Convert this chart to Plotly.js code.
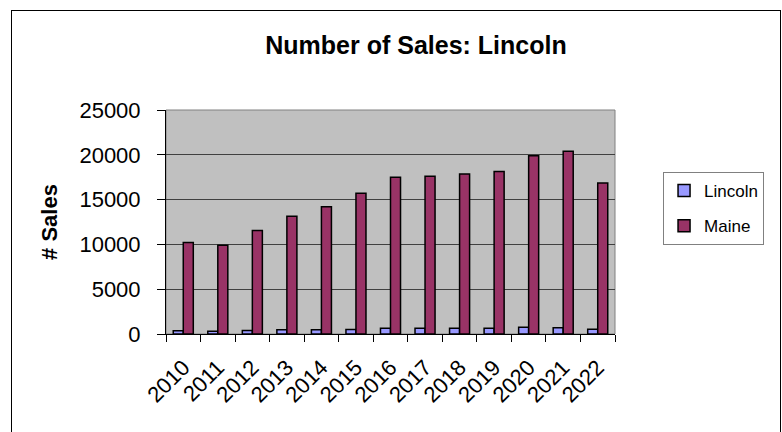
<!DOCTYPE html>
<html>
<head>
<meta charset="utf-8">
<script src="https://cdn.plot.ly/plotly-3.0.1.min.js"></script>
<style>
  html, body { margin: 0; padding: 0; background: #ffffff; }
  #wrap { position: relative; width: 782px; height: 432px; overflow: hidden; }
  #chart { position: absolute; left: 0; top: 0; width: 782px; height: 432px; }
  #frame { position: absolute; left: 11px; top: 10px; width: 768px; height: 440px;
           border: 1px solid #000; pointer-events: none; }
</style>
</head>
<body>
<div id="wrap">
  <div id="chart"></div>
  <div id="frame"></div>
</div>
<script>
const years = ["2010","2011","2012","2013","2014","2015","2016","2017","2018","2019","2020","2021","2022"];
const lincolnSales = [350, 300, 400, 470, 480, 500, 650, 650, 640, 650, 750, 700, 530];
const maineSales = [10200, 9900, 11550, 13150, 14200, 15700, 17500, 17600, 17850, 18150, 19900, 20400, 16850];
const seriesNames = ["Lincoln", "Maine"];
const yTickValues = [0, 5000, 10000, 15000, 20000, 25000];

const FONT = "Arial, 'Liberation Sans', sans-serif";

const traces = [
  {
    type: "bar", name: seriesNames[0], x: years, y: lincolnSales,
    legendgroup: "a",
    marker: { color: "#9999FF", line: { color: "#000000", width: 1.5 } },
    hoverinfo: "x+y"
  },
  {
    type: "bar", name: seriesNames[1], x: years, y: maineSales,
    legendgroup: "b",
    marker: { color: "#993366", line: { color: "#000000", width: 1.5 } },
    hoverinfo: "x+y"
  }
];

const layout = {
  width: 782, height: 432,
  margin: { l: 166, r: 167, t: 110, b: 98, pad: 0 },
  paper_bgcolor: "rgba(0,0,0,0)",
  plot_bgcolor: "#C0C0C0",
  font: { family: FONT, color: "#000000" },
  barmode: "group",
  bargap: 0.42,
  bargroupgap: 0,
  title: {
    text: "<b>Number of Sales: Lincoln</b>",
    font: { family: FONT, size: 25, color: "#000000" },
    x: 0.532, xref: "container", xanchor: "center",
    y: 0.896, yref: "container", yanchor: "middle"
  },
  xaxis: {
    type: "category",
    tickangle: -45,
    tickson: "boundaries",
    ticks: "outside", ticklen: 7, tickwidth: 1, tickcolor: "#000000",
    ticklabelstandoff: 11,
    showline: true, linecolor: "#000000", linewidth: 1,
    showgrid: false, zeroline: false,
    tickfont: { family: FONT, size: 22, color: "#000000" }
  },
  yaxis: {
    range: [0, 25000],
    tickvals: yTickValues,
    ticktext: yTickValues.map(String),
    ticks: "outside", ticklen: 8, tickwidth: 1, tickcolor: "#000000",
    ticklabelstandoff: 12,
    showline: true, linecolor: "#000000", linewidth: 1,
    showgrid: true, gridcolor: "#404040", gridwidth: 1,
    zeroline: false,
    tickfont: { family: FONT, size: 22, color: "#000000" },
    title: { text: "<b># Sales</b>", font: { family: FONT, size: 22, color: "#000000" }, standoff: 15 }
  },
  showlegend: true,
  legend: {
    x: 1.107, xanchor: "left", y: 0.723, yanchor: "top",
    bgcolor: "#ffffff", bordercolor: "#808080", borderwidth: 1,
    font: { family: FONT, size: 17, color: "#000000" },
    traceorder: "grouped", tracegroupgap: 10,
    itemwidth: 30
  },
  shapes: [
    { type: "rect", xref: "paper", yref: "paper", x0: 0, x1: 1, y0: 0, y1: 1,
      line: { color: "#808080", width: 1 }, fillcolor: "rgba(0,0,0,0)", layer: "below" }
  ]
};

Plotly.newPlot("chart", traces, layout, { displayModeBar: false, staticPlot: true });
</script>
</body>
</html>
